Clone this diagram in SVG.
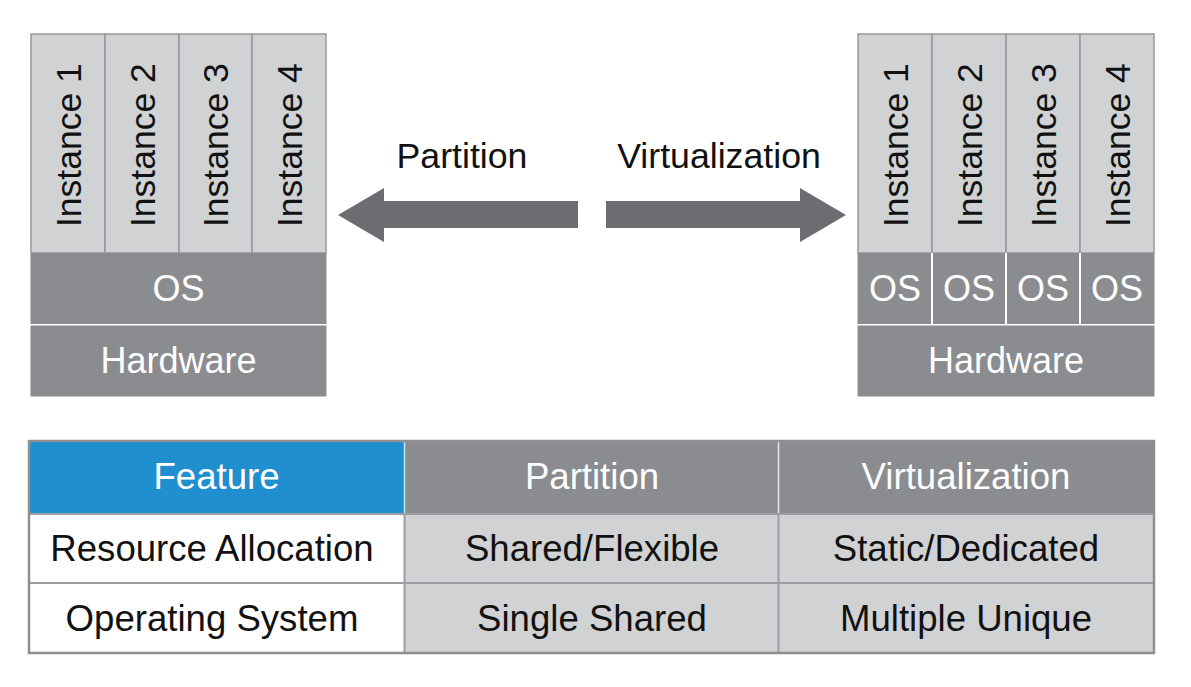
<svg xmlns="http://www.w3.org/2000/svg" width="1191" height="687" viewBox="0 0 1191 687">
  <style>
    text { font-family: "Liberation Sans", Arial, Helvetica, sans-serif; }
    .inst { fill: #d1d2d4; stroke: #97989b; stroke-width: 1.5; }
    .dark { fill: #8b8c90; }
    .lite { fill: #d1d2d4; }
    .wsep { stroke: #ffffff; stroke-width: 2; }
    .itxt { font-size: 35.5px; fill: #111111; }
    .wtxt { font-size: 36px; fill: #ffffff; text-anchor: middle; }
    .ttxt { font-size: 36.6px; fill: #ffffff; text-anchor: middle; }
    .btxt { font-size: 36.6px; fill: #111111; text-anchor: middle; }
    .lbl { font-size: 35.7px; fill: #111111; text-anchor: middle; }
    .arrow { fill: #6c6d71; }
    .grid { stroke: #9d9ea1; stroke-width: 2; }
  </style>
  <rect width="1191" height="687" fill="#ffffff"/>

  <!-- Left stack: Partition -->
  <g id="left-stack">
    <g id="left-instances">
      <rect class="inst" x="31" y="34" width="74" height="219"/>
      <rect class="inst" x="105" y="34" width="74" height="219"/>
      <rect class="inst" x="179" y="34" width="73" height="219"/>
      <rect class="inst" x="252" y="34" width="74" height="219"/>
      <text class="itxt" transform="translate(80.5,227) rotate(-90)">Instance 1</text>
      <text class="itxt" transform="translate(154.5,227) rotate(-90)">Instance 2</text>
      <text class="itxt" transform="translate(228,227) rotate(-90)">Instance 3</text>
      <text class="itxt" transform="translate(301.5,227) rotate(-90)">Instance 4</text>
    </g>
    <g id="left-os">
      <rect class="dark" x="30.5" y="253" width="296" height="71"/>
      <text class="wtxt" x="178.5" y="301">OS</text>
    </g>
    <g id="left-hardware">
      <rect class="dark" x="30.5" y="325.5" width="296" height="71"/>
      <text class="wtxt" x="178.5" y="373">Hardware</text>
    </g>
  </g>

  <!-- Right stack: Virtualization -->
  <g id="right-stack">
    <g id="right-instances">
      <rect class="inst" x="858" y="34" width="74" height="219"/>
      <rect class="inst" x="932" y="34" width="74" height="219"/>
      <rect class="inst" x="1006" y="34" width="74" height="219"/>
      <rect class="inst" x="1080" y="34" width="74" height="219"/>
      <text class="itxt" transform="translate(907.5,227) rotate(-90)">Instance 1</text>
      <text class="itxt" transform="translate(981.5,227) rotate(-90)">Instance 2</text>
      <text class="itxt" transform="translate(1055.5,227) rotate(-90)">Instance 3</text>
      <text class="itxt" transform="translate(1129.5,227) rotate(-90)">Instance 4</text>
    </g>
    <g id="right-os">
      <rect class="dark" x="857.5" y="253" width="297" height="71"/>
      <line class="wsep" x1="932" y1="253" x2="932" y2="324"/>
      <line class="wsep" x1="1006" y1="253" x2="1006" y2="324"/>
      <line class="wsep" x1="1080" y1="253" x2="1080" y2="324"/>
      <text class="wtxt" x="895" y="301">OS</text>
      <text class="wtxt" x="969" y="301">OS</text>
      <text class="wtxt" x="1043" y="301">OS</text>
      <text class="wtxt" x="1117" y="301">OS</text>
    </g>
    <g id="right-hardware">
      <rect class="dark" x="857.5" y="325.5" width="297" height="71"/>
      <text class="wtxt" x="1006" y="373">Hardware</text>
    </g>
  </g>

  <!-- Connectors -->
  <g id="connectors">
    <g id="arrow-partition">
      <polygon class="arrow" points="338,215 384,188 384,201 578,201 578,228 384,228 384,242"/>
      <text class="lbl" x="462" y="168">Partition</text>
    </g>
    <g id="arrow-virtualization">
      <polygon class="arrow" points="846,215 800,188 800,201 606,201 606,228 800,228 800,242"/>
      <text class="lbl" x="719" y="168">Virtualization</text>
    </g>
  </g>

  <!-- Comparison table -->
  <g id="table">
    <rect x="29" y="441" width="375" height="73" fill="#1f8fd0"/>
    <rect class="dark" x="404" y="441" width="750" height="73"/>
    <rect x="29" y="514" width="375" height="139" fill="#ffffff"/>
    <rect class="lite" x="404" y="514" width="750" height="139"/>
    <line x1="404.5" y1="441" x2="404.5" y2="514" stroke="#c9e3f3" stroke-width="1.5"/>
    <line x1="778.5" y1="441" x2="778.5" y2="514" stroke="#e8e8e9" stroke-width="1.5"/>
    <line class="grid" x1="404.5" y1="514" x2="404.5" y2="653"/>
    <line class="grid" x1="778.5" y1="514" x2="778.5" y2="653"/>
    <line class="grid" x1="29" y1="514" x2="1154" y2="514"/>
    <line class="grid" x1="29" y1="583" x2="1154" y2="583"/>
    <rect x="29" y="441" width="1125" height="212" fill="none" stroke="#8e8f92" stroke-width="2.5"/>
    <g id="header-row">
      <text class="ttxt" x="216.5" y="489">Feature</text>
      <text class="ttxt" x="592" y="489">Partition</text>
      <text class="ttxt" x="966" y="489">Virtualization</text>
    </g>
    <g id="row-resource">
      <text class="btxt" x="212" y="561">Resource Allocation</text>
      <text class="btxt" x="592" y="561">Shared/Flexible</text>
      <text class="btxt" x="966" y="561">Static/Dedicated</text>
    </g>
    <g id="row-os">
      <text class="btxt" x="212" y="631">Operating System</text>
      <text class="btxt" x="592" y="631">Single Shared</text>
      <text class="btxt" x="966" y="631">Multiple Unique</text>
    </g>
  </g>
</svg>
